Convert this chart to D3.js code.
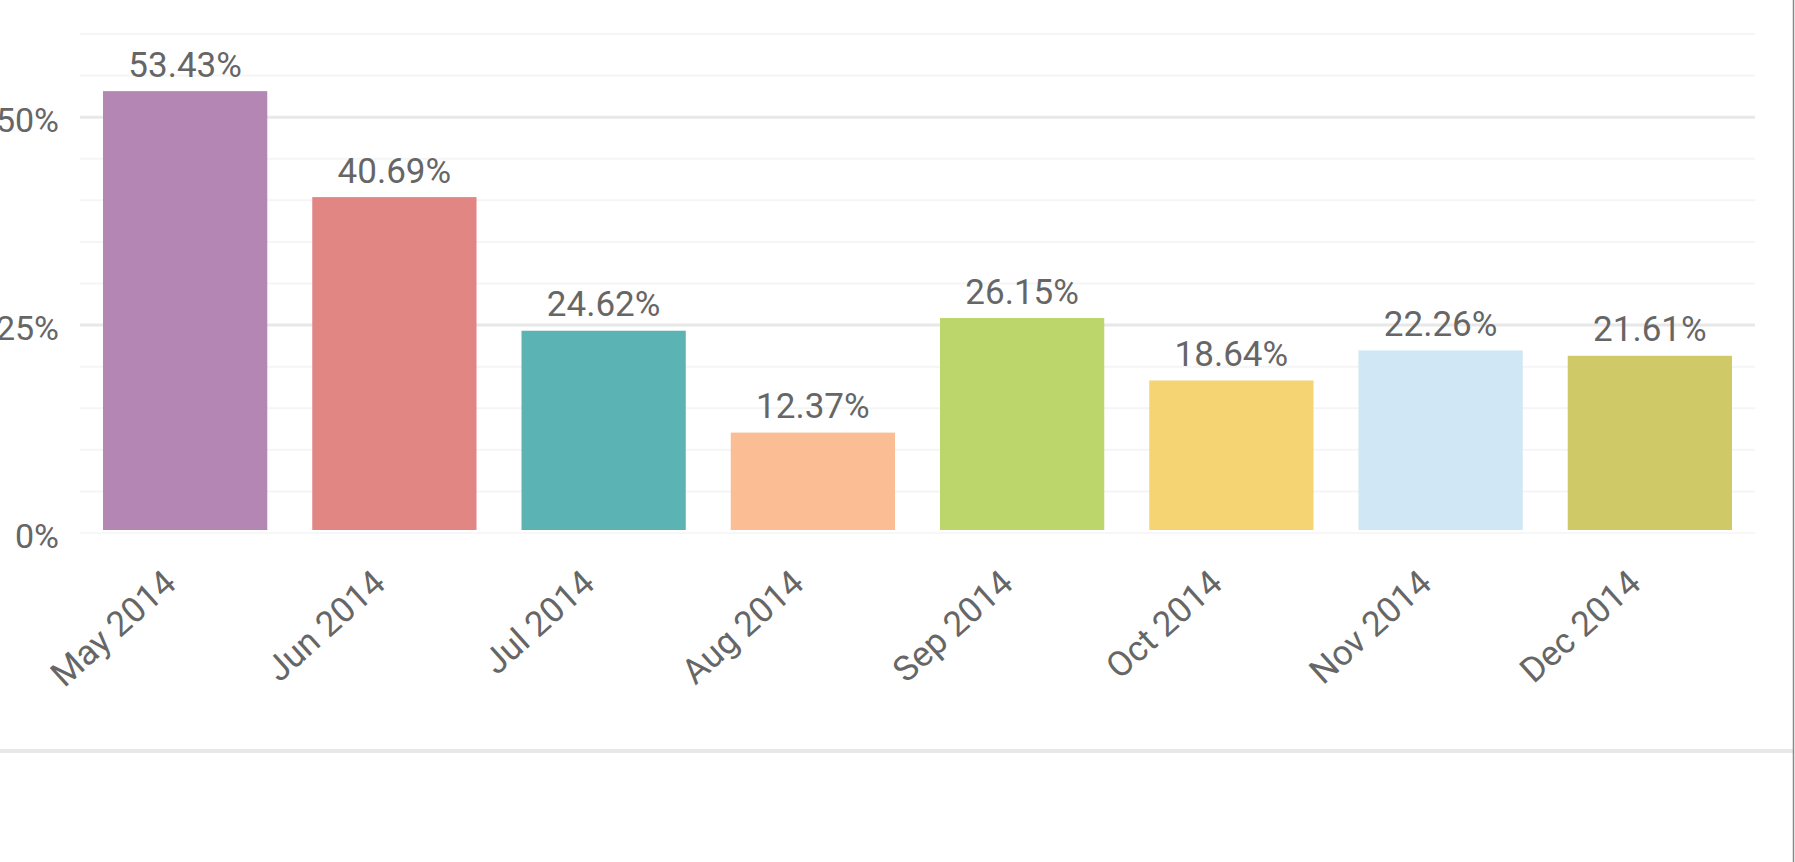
<!DOCTYPE html>
<html>
<head>
<meta charset="utf-8">
<script src="https://cdn.jsdelivr.net/npm/d3@7"></script>
<style>
  body { margin: 0; background: #fff; }
  .chart text { font-family: Roboto, "Noto Sans", sans-serif; fill: #666; }
</style>
</head>
<body>
<div class="chart"></div>
<script>
// data
var months = ["May 2014", "Jun 2014", "Jul 2014", "Aug 2014", "Sep 2014", "Oct 2014", "Nov 2014", "Dec 2014"];
var values = [53.43, 40.69, 24.62, 12.37, 26.15, 18.64, 22.26, 21.61];
var colors = ["#b386b4", "#e18683", "#5bb3b4", "#fbbd93", "#bdd66c", "#f4d473", "#d0e7f6", "#cfc968"];
var yTickLabels = [0, 25, 50];
var gridTicks = d3.range(0, 61, 5);

var svgWidth = 1795;
var svgHeight = 862;

var margin = { top: 34, right: 40, bottom: 329, left: 80 };
var width = svgWidth - margin.left - margin.right;
var height = svgHeight - margin.top - margin.bottom;

var svg = d3.select(".chart")
  .append("svg")
  .attr("width", svgWidth)
  .attr("height", svgHeight);

var chart = svg.append("g")
  .attr("transform", "translate(" + margin.left + "," + margin.top + ")");

var x = d3.scaleBand()
  .domain(months)
  .range([0, width])
  .paddingInner(0.215)
  .paddingOuter(0.11);

var y = d3.scaleLinear()
  .domain([0, 60])
  .range([height, 0]);

// grid lines
chart.append("g")
  .selectAll("line")
  .data(gridTicks)
  .enter()
  .append("line")
  .attr("x1", 0)
  .attr("x2", width)
  .attr("y1", d => y(d))
  .attr("y2", d => y(d))
  .attr("stroke", d => (d > 0 && d % 25 === 0) ? "#e8e8e8" : "#f5f5f5")
  .attr("stroke-width", d => d === 0 ? 1.5 : (d % 25 === 0 ? 3 : 2));

// y tick labels
chart.append("g")
  .selectAll("text")
  .data(yTickLabels)
  .enter()
  .append("text")
  .attr("x", -21)
  .attr("y", d => y(d) + 15)
  .attr("text-anchor", "end")
  .attr("font-size", "34px")
  .text(d => d + "%");

// bars
chart.selectAll("rect.bar")
  .data(values)
  .enter()
  .append("rect")
  .attr("class", "bar")
  .attr("x", (d, i) => x(months[i]))
  .attr("width", x.bandwidth())
  .attr("y", d => y(d) + 2.5)
  .attr("height", d => y(0) - y(d) - 5.5)
  .attr("fill", (d, i) => colors[i]);

// value labels
chart.selectAll("text.value")
  .data(values)
  .enter()
  .append("text")
  .attr("class", "value")
  .attr("x", (d, i) => x(months[i]) + x.bandwidth() / 2)
  .attr("y", d => y(d) - 12)
  .attr("text-anchor", "middle")
  .attr("font-size", "35px")
  .text(d => d.toFixed(2) + "%");

// x labels, rotated
chart.selectAll("text.month")
  .data(months)
  .enter()
  .append("text")
  .attr("class", "month")
  .attr("text-anchor", "end")
  .attr("font-size", "35px")
  .attr("transform", d => "translate(" + (x(d) + x.bandwidth() / 2 - 7) + "," + (y(0) + 53) + ") rotate(-42)")
  .text(d => d);

// bottom separator and right border
svg.append("rect")
  .attr("x", 0)
  .attr("y", 749)
  .attr("width", 1793)
  .attr("height", 4)
  .attr("fill", "#e8e8e8");

svg.append("line")
  .attr("x1", 1793.5)
  .attr("x2", 1793.5)
  .attr("y1", 0)
  .attr("y2", svgHeight)
  .attr("stroke", "#888")
  .attr("stroke-width", 1.5);
</script>
</body>
</html>
